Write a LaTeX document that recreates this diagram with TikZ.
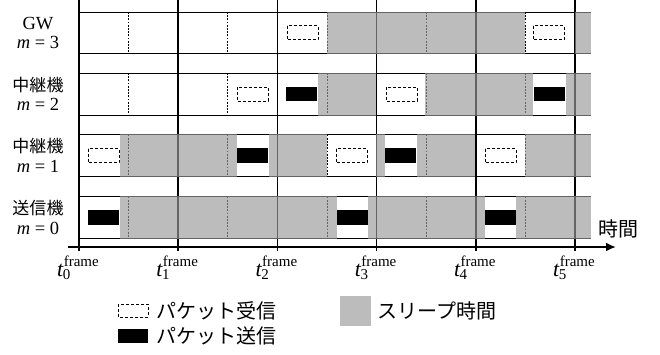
\documentclass[tikz,border=0pt]{standalone}
\usepackage{fontspec}
\setmainfont{Liberation Serif}
\newfontfamily\jp{Noto Sans CJK JP}
\usetikzlibrary{arrows.meta}
\newcommand{\tfr}[1]{\textit{t}\makebox[0pt][l]{\kern-0.04em\raisebox{-0.18em}{\fontsize{15}{15}\selectfont #1}}\raisebox{0.45em}{\fontsize{15}{15}\selectfont frame}}
\newcommand{\jplab}[1]{{\fontsize{17}{19.5}\selectfont\jp #1}}
\begin{document}
\begin{tikzpicture}[x=1pt,y=-1pt,
  frameline/.style={line width=1.7pt},
  rowline/.style={line width=0.9pt},
  halfline/.style={line width=0.8pt, dash pattern=on 1.8pt off 1.4pt},
  sleep/.style={fill=black!40, fill opacity=0.66, draw=none},
  rxbox/.style={draw, line width=1pt, dash pattern=on 3pt off 2pt, fill=white},
  txbox/.style={fill=black, draw=none},
  rowlab/.style={align=center, font=\fontsize{18.5}{19.5}\selectfont, inner sep=0pt},
  tlab/.style={anchor=base, font=\fontsize{22}{22}\selectfont, inner sep=0pt},
  legtxt/.style={anchor=west, font=\fontsize{20}{20}\selectfont\jp, inner sep=0pt}
]
\useasboundingbox (0,0) rectangle (660,354);

% frame lines
\foreach \k in {0,...,5} {
  \draw[frameline] ({79+99.2*\k},0) -- ({79+99.2*\k},251);
}
% rows
\foreach \tp/\bt in {12/53.5, 73/115, 134.5/176.5, 196.5/238} {
  \draw[rowline] (79,\tp) -- (591,\tp);
  \draw[rowline] (79,\bt) -- (591,\bt);
  \foreach \h in {0,...,4} {
    \draw[halfline] ({128.6+99.2*\h},\tp) -- ({128.6+99.2*\h},\bt);
  }
}
% sleep intervals
\foreach \a/\b in {327/525, 574.5/591}
  \fill[sleep] (\a,11.5) rectangle (\b,54);
\foreach \a/\b in {318/376, 425/533, 566/591}
  \fill[sleep] (\a,72.5) rectangle (\b,115.5);
\foreach \a/\b in {120/237, 269/327, 376/385, 417/475, 525/591}
  \fill[sleep] (\a,134) rectangle (\b,177);
\foreach \a/\b in {120/337, 368/485, 516/591}
  \fill[sleep] (\a,196) rectangle (\b,238.5);

% receive boxes
\foreach \x/\c in {287/32.75, 533/32.75, 237/94, 386/94, 88/155.5, 336/155.5, 485/155.5}
  \draw[rxbox] (\x,\c-7) rectangle (\x+31,\c+7);
% send boxes
\foreach \x/\c in {286/94, 534/94, 237/155.5, 385/155.5, 88/217.25, 337/217.25, 485/217.25}
  \fill[txbox] (\x,\c-7.25) rectangle (\x+31,\c+7.25);

% axis
\coordinate (ax0) at (68,247);
\coordinate (ax1) at (616,247);
\draw[line width=2pt, -{Latex[length=10pt,width=9pt]}] (ax0) -- (ax1);
\node[font=\fontsize{20}{20}\selectfont\jp, inner sep=0pt] (time) at (618,229) {時間};

% row labels
\node[rowlab] (lab3) at (38,32.75) {GW\\\textit{m} = 3};
\node[rowlab] (lab2) at (38,94) {\jplab{中継機}\\\textit{m} = 2};
\node[rowlab] (lab1) at (38,155.5) {\jplab{中継機}\\\textit{m} = 1};
\node[rowlab] (lab0) at (38,217.25) {\jplab{送信機}\\\textit{m} = 0};

% time labels
\foreach \k in {0,...,5} {
  \node[tlab] (t\k) at ({78+99.2*\k},276) {\tfr{\k}};
}

% legend
\draw[rxbox] (118,304) rectangle (148,317);
\node[legtxt] (lrx) at (156,311) {パケット受信};
\fill[txbox] (118,329) rectangle (148,343);
\node[legtxt] (ltx) at (156,336) {パケット送信};
\fill[sleep] (340,296) rectangle (371,326);
\node[legtxt] (lsl) at (377,311) {スリープ時間};
\end{tikzpicture}
\end{document}
